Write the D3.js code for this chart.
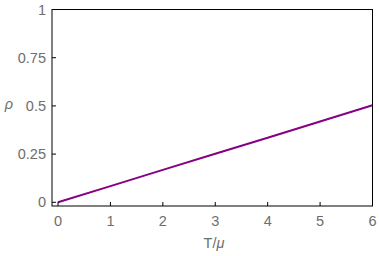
<!DOCTYPE html>
<html>
<head>
<meta charset="utf-8">
<script src="https://cdn.jsdelivr.net/npm/d3@7"></script>
<style>
  body { margin: 0; background: #fff; }
  text { font-family: "Liberation Sans", Arial, sans-serif; fill: #6e6e6e; }
</style>
</head>
<body>
<script>
// Data
var tValues = [0, 1, 2, 3, 4, 5, 6];
var rhoValues = [0, 0.084, 0.168, 0.252, 0.335, 0.419, 0.503];
var xTicks = [0, 1, 2, 3, 4, 5, 6];
var yTicks = [0, 0.25, 0.5, 0.75, 1];
var yTickLabels = ["0", "0.25", "0.5", "0.75", "1"];

var width = 379, height = 256;
var frame = {left: 52, right: 372.5, top: 9.5, bottom: 206};

var svg = d3.select("body").append("svg")
  .attr("width", width)
  .attr("height", height);

var x = d3.scaleLinear().domain([0, 6]).range([58, 372.5]);
var y = d3.scaleLinear().domain([0, 1]).range([202.3, 9.5]);

// Curve
var line = d3.line()
  .x(function(d, i) { return x(tValues[i]); })
  .y(function(d) { return y(d); });

svg.append("path")
  .datum(rhoValues)
  .attr("fill", "none")
  .attr("stroke", "#850085")
  .attr("stroke-width", 2)
  .attr("d", line);

// Frame
svg.append("rect")
  .attr("x", frame.left)
  .attr("y", frame.top)
  .attr("width", frame.right - frame.left)
  .attr("height", frame.bottom - frame.top)
  .attr("fill", "none")
  .attr("stroke", "#000")
  .attr("stroke-width", 1);

// Bottom ticks (inward) and labels
var bottom = svg.append("g");
bottom.selectAll("line")
  .data(xTicks)
  .enter().append("line")
  .attr("x1", function(d) { return x(d); })
  .attr("x2", function(d) { return x(d); })
  .attr("y1", frame.bottom)
  .attr("y2", frame.bottom - 4)
  .attr("stroke", "#000");
bottom.selectAll("text")
  .data(xTicks)
  .enter().append("text")
  .attr("x", function(d) { return x(d); })
  .attr("y", 225.5)
  .attr("text-anchor", "middle")
  .attr("font-size", 14.5)
  .text(function(d) { return d; });

// Left ticks and labels
var left = svg.append("g");
left.selectAll("line")
  .data(yTicks)
  .enter().append("line")
  .attr("x1", frame.left)
  .attr("x2", frame.left + 4)
  .attr("y1", function(d) { return y(d); })
  .attr("y2", function(d) { return y(d); })
  .attr("stroke", "#000");
left.selectAll("text")
  .data(yTicks)
  .enter().append("text")
  .attr("x", 46)
  .attr("y", function(d) { return y(d) + 5; })
  .attr("text-anchor", "end")
  .attr("font-size", 14.5)
  .text(function(d, i) { return yTickLabels[i]; });

// Axis labels
var xLabel = svg.append("text")
  .attr("x", 214)
  .attr("y", 248)
  .attr("text-anchor", "middle")
  .attr("font-size", 14.5);
xLabel.append("tspan").text("T/");
xLabel.append("tspan").attr("font-style", "italic").text("μ");

svg.append("text")
  .attr("x", 9)
  .attr("y", 108.5)
  .attr("text-anchor", "middle")
  .attr("font-size", 14.5)
  .attr("font-style", "italic")
  .text("ρ");
</script>
</body>
</html>
